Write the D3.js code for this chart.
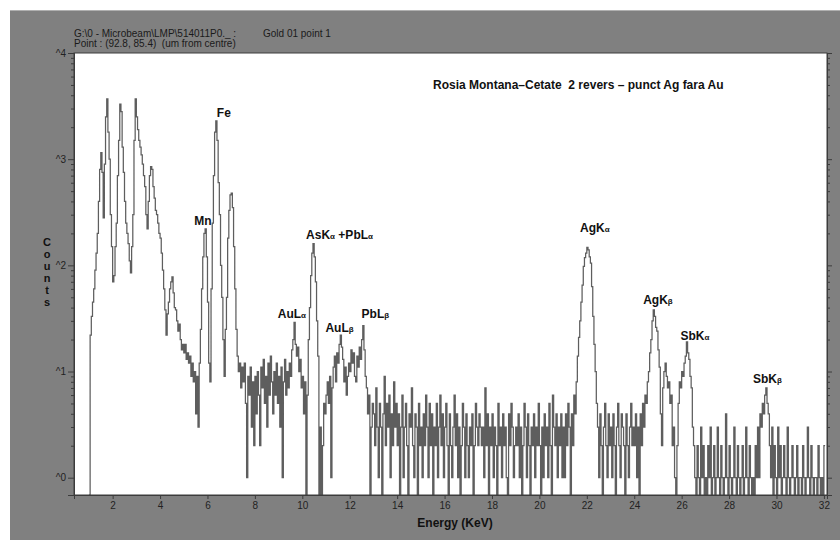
<!DOCTYPE html>
<html>
<head>
<meta charset="utf-8">
<script src="https://cdn.jsdelivr.net/npm/d3@7"></script>
<style>
  body { margin: 0; background: #fff; }
  svg { display: block; }
  text { font-family: "Liberation Sans", Arial, Helvetica, sans-serif; }
</style>
</head>
<body>
<svg id="chart" width="840" height="540"></svg>
<script>
// Spectrum: counts per 0.05 keV channel, first channel at 1.00 keV
const startEnergy = 1.00;
const channelWidth = 0.05;
const counts = [
  // 1 keV
  0, 22, 33, 45, 60, 90, 130, 200, 400, 800, 1150, 750, 280, 900, 2500, 3700, 1800, 1000, 300, 150,
  // 2 keV
  70, 80, 150, 250, 700, 1500, 3300, 2800, 1300, 750, 400, 250, 200, 160, 110, 85, 150, 300, 1500, 3700,
  // 3 keV
  2500, 1900, 1500, 1300, 1100, 900, 700, 550, 300, 220, 400, 700, 850, 800, 550, 430, 330, 300, 250, 200,
  // 4 keV
  180, 130, 90, 60, 38, 22, 35, 45, 60, 70, 78, 55, 40, 38, 30, 24, 28, 20, 16, 18,
  // 5 keV
  15, 18, 13, 15, 12, 14, 9, 12, 8, 10, 4, 9, 3, 12, 25, 60, 120, 200, 220, 120,
  // 6 keV
  45, 12, 8, 60, 250, 700, 1800, 2300, 1500, 600, 300, 100, 50, 20, 9, 25, 50, 180, 330, 460,
  // 7 keV
  480, 350, 150, 60, 25, 14, 10, 12, 7, 11, 8, 12, 5, 1, 9, 6, 11, 3, 8, 2,
  // 8 keV
  9, 4, 10, 6, 2, 11, 7, 13, 5, 9, 3, 12, 6, 14, 8, 4, 10, 6, 12, 5,
  // 9 keV
  9, 3, 11, 1, 8, 13, 6, 10, 7, 12, 9, 16, 20, 29, 18, 14, 17, 10, 13, 7,
  // 10 keV
  9, 4, 8, 0, 6, 20, 40, 80, 130, 160, 120, 70, 30, 14, 0, 3, 0, 2, 5, 4,
  // 11 keV
  6, 8, 5, 9, 1, 7, 11, 14, 8, 15, 12, 18, 22, 17, 13, 8, 11, 6, 9, 12,
  // 12 keV
  10, 16, 12, 15, 9, 8, 14, 11, 17, 13, 20, 27, 16, 9, 7, 4, 6, 0, 3, 5,
  // 13 keV
  4, 2, 7, 3, 1, 5, 3, 0, 4, 9, 2, 5, 3, 6, 1, 4, 2, 8, 3, 5,
  // 14 keV
  2, 4, 0, 3, 6, 1, 3, 5, 2, 0, 4, 3, 7, 2, 1, 4, 3, 0, 5, 2,
  // 15 keV
  3, 1, 4, 2, 6, 3, 1, 5, 2, 4, 0, 3, 2, 5, 1, 3, 6, 2, 4, 1,
  // 16 keV
  3, 5, 2, 0, 4, 2, 1, 3, 6, 2, 4, 1, 3, 0, 2, 5, 3, 1, 4, 2,
  // 17 keV
  1, 3, 2, 4, 0, 2, 5, 3, 2, 4, 3, 2, 3, 1, 7, 2, 4, 0, 3, 2,
  // 18 keV
  4, 1, 3, 2, 0, 5, 2, 3, 1, 4, 2, 3, 1, 0, 4, 2, 5, 3, 1, 2,
  // 19 keV
  3, 2, 4, 1, 3, 0, 2, 5, 3, 1, 4, 2, 0, 3, 2, 4, 1, 3, 2, 5,
  // 20 keV
  2, 0, 3, 1, 4, 2, 3, 1, 5, 2, 0, 6, 3, 2, 4, 1, 3, 2, 4, 1,
  // 21 keV
  3, 1, 4, 2, 5, 3, 0, 4, 2, 6, 4, 8, 14, 21, 30, 45, 65, 98, 118, 130,
  // 22 keV
  148, 140, 120, 105, 63, 33, 18, 10, 5, 3, 1, 4, 2, 0, 3, 5, 2, 1, 4, 2,
  // 23 keV
  3, 1, 4, 2, 0, 3, 5, 2, 1, 4, 3, 2, 0, 4, 2, 1, 3, 5, 2, 3,
  // 24 keV
  2, 4, 1, 3, 0, 4, 2, 5, 3, 6, 5, 8, 10, 15, 20, 30, 38, 33, 26, 24,
  // 25 keV
  16, 11, 4, 2, 7, 10, 12, 9, 7, 8, 5, 6, 2, 3, 1, 0, 2, 5, 8, 7,
  // 26 keV
  10, 9, 12, 14, 19, 15, 13, 9, 7, 3, 2, 1, 0, 2, 1, 0, 3, 1, 2, 0,
  // 27 keV
  1, 0, 2, 1, 3, 0, 1, 2, 0, 1, 3, 1, 0, 2, 1, 0, 1, 4, 1, 0,
  // 28 keV
  2, 1, 0, 1, 3, 1, 0, 2, 1, 0, 1, 2, 0, 1, 3, 1, 0, 2, 1, 0,
  // 29 keV
  1, 0, 2, 1, 3, 1, 4, 3, 5, 4, 6, 7, 5, 4, 2, 1, 3, 0, 2, 1,
  // 30 keV
  0, 3, 1, 2, 0, 1, 2, 1, 0, 3, 1, 0, 1, 2, 1, 0, 1, 2, 0, 1,
  // 31 keV
  1, 0, 2, 1, 0, 1, 3, 1, 0, 2, 1, 0, 1, 1, 0, 2, 1, 0, 1, 0,
  // 32 keV
  2
];

// Axis ticks
const energyTicks = [2, 4, 6, 8, 10, 12, 14, 16, 18, 20, 22, 24, 26, 28, 30, 32];
const countDecades = [0, 1, 2, 3, 4];

// Peak annotations: label, line family, anchor energy (keV) and anchor count
const peakNames = ["Mn", "Fe", "AsK", "AuL", "AuL", "PbL", "AgK", "AgK", "SbK", "SbK"];
const peakLines = ["", "", "α +PbLα", "α", "β", "β", "α", "β", "α", "β"];
const peakEnergies = [5.81, 6.69, 11.57, 9.56, 11.57, 13.08, 22.34, 25.0, 26.56, 29.62];
const peakCounts = [241, 2495, 176, 31.8, 23.5, 31.8, 205.6, 43.1, 19.7, 7.76];

const headerLine1 = "G:\\0 - Microbeam\\LMP\\514011P0._ :";
const headerLine1b = "Gold 01 point 1";
const headerLine2 = "Point : (92.8, 85.4)  (um from centre)";
const sampleTitle = "Rosia Montana\u2013Cetate  2 revers \u2013 punct Ag fara Au";
const xTitle = "Energy (KeV)";
const yTitle = "Counts";

const svg = d3.select("#chart");
const W = 840, H = 540;
const plot = { left: 74, right: 827, top: 53, bottom: 495 };

// Grey panel behind the plot
svg.append("rect").attr("x", 10).attr("y", 10).attr("width", W - 10).attr("height", H - 10)
  .attr("fill", "#808080");
svg.append("line").attr("x1", 10).attr("x2", W).attr("y1", 10.5).attr("y2", 10.5)
  .attr("stroke", "#b0b0b0").attr("stroke-width", 1);

const x = d3.scaleLinear().domain([0.37, 32.13]).range([plot.left, plot.right]);
const y = d3.scaleLog().domain([Math.pow(10, -0.163), 1e4]).range([plot.bottom, plot.top]);

// White plotting area
svg.append("rect").attr("x", plot.left).attr("y", plot.top)
  .attr("width", plot.right - plot.left).attr("height", plot.bottom - plot.top)
  .attr("fill", "#fff");

svg.append("clipPath").attr("id", "plotClip").append("rect")
  .attr("x", plot.left).attr("y", plot.top)
  .attr("width", plot.right - plot.left).attr("height", plot.bottom - plot.top);

// Spectrum as a step histogram
const points = counts.map((c, i) => [startEnergy + i * channelWidth, c]);
points.push([startEnergy + counts.length * channelWidth, counts[counts.length - 1]]);
const yOf = c => (c > 0 ? y(c) : plot.bottom);
const stepLine = d3.line().x(d => x(d[0])).y(d => yOf(d[1])).curve(d3.curveStepAfter);

svg.append("path").attr("clip-path", "url(#plotClip)")
  .attr("d", stepLine(points))
  .attr("fill", "none").attr("stroke", "#5e5e5e").attr("stroke-width", 1.25);

// Log ticks: minor at 2..9 of each decade, major at decades
const majorTicks = countDecades.map(d => Math.pow(10, d));
const minorTicks = [];
countDecades.slice(0, -1).forEach(d => {
  for (let m = 2; m <= 9; m++) minorTicks.push(m * Math.pow(10, d));
});

const axisColor = "#3c3c3c";
function styleAxis(g) {
  g.selectAll(".domain").attr("stroke", axisColor);
  g.selectAll(".tick line").attr("stroke", axisColor);
  g.selectAll(".tick text").attr("fill", "#222").style("font-size", "10px")
    .style("font-family", "'Liberation Sans', Arial, sans-serif");
}

// Left axis
const leftMinor = svg.append("g").attr("transform", `translate(${plot.left},0)`)
  .call(d3.axisLeft(y).tickValues(minorTicks).tickSize(3).tickFormat(""));
styleAxis(leftMinor);
const leftMajor = svg.append("g").attr("transform", `translate(${plot.left},0)`)
  .call(d3.axisLeft(y).tickValues(majorTicks).tickSize(6).tickPadding(2)
    .tickFormat(v => "^" + Math.round(Math.log10(v))));
styleAxis(leftMajor);

// Right axis (ticks only)
const rightMinor = svg.append("g").attr("transform", `translate(${plot.right},0)`)
  .call(d3.axisRight(y).tickValues(minorTicks).tickSize(3).tickFormat(""));
styleAxis(rightMinor);
const rightMajor = svg.append("g").attr("transform", `translate(${plot.right},0)`)
  .call(d3.axisRight(y).tickValues(majorTicks).tickSize(5).tickFormat(""));
styleAxis(rightMajor);

// Bottom axis
const bottom = svg.append("g").attr("transform", `translate(0,${plot.bottom})`)
  .call(d3.axisBottom(x).tickValues(energyTicks).tickSize(4).tickPadding(3));
styleAxis(bottom);

// Plot frame
svg.append("rect").attr("x", plot.left).attr("y", plot.top)
  .attr("width", plot.right - plot.left).attr("height", plot.bottom - plot.top)
  .attr("fill", "none").attr("stroke", "#3c3c3c").attr("stroke-width", 1);

// Header lines
svg.append("text").attr("x", 74).attr("y", 37).attr("fill", "#1a1a1a")
  .style("font-size", "10px").text(headerLine1);
svg.append("text").attr("x", 263).attr("y", 37).attr("fill", "#1a1a1a")
  .style("font-size", "10px").text(headerLine1b);
svg.append("text").attr("x", 74).attr("y", 47).attr("fill", "#1a1a1a")
  .style("font-size", "10px").style("white-space", "pre").text(headerLine2);

// Sample title inside plot
svg.append("text").attr("x", 433).attr("y", 89).attr("fill", "#111")
  .style("font-size", "12px").style("font-weight", "bold").style("white-space", "pre")
  .text(sampleTitle);

// Axis titles
svg.append("text").attr("x", 455).attr("y", 527).attr("text-anchor", "middle")
  .attr("fill", "#111").style("font-size", "12px").style("font-weight", "bold").text(xTitle);

svg.append("g").selectAll("text").data(yTitle.split("")).join("text")
  .attr("x", 47).attr("y", (d, i) => 246 + i * 12)
  .attr("text-anchor", "middle").attr("fill", "#111")
  .style("font-size", "11px").style("font-weight", "bold").text(d => d);

// Peak labels
const labels = svg.append("g");
peakNames.forEach((name, i) => {
  const t = labels.append("text")
    .attr("x", x(peakEnergies[i])).attr("y", y(peakCounts[i]))
    .attr("text-anchor", "middle").attr("fill", "#111")
    .style("font-size", "12px").style("font-weight", "bold").style("white-space", "pre");
  t.append("tspan").text(name);
  const line = peakLines[i];
  if (line) {
    // Greek line symbols are set smaller than the element names
    const parts = line.split(/(α|β)/).filter(s => s.length);
    parts.forEach(p => {
      if (p === "α" || p === "β") {
        t.append("tspan").style("font-size", "8px").text(p);
      } else {
        t.append("tspan").text(p);
      }
    });
  }
});
</script>
</body>
</html>
